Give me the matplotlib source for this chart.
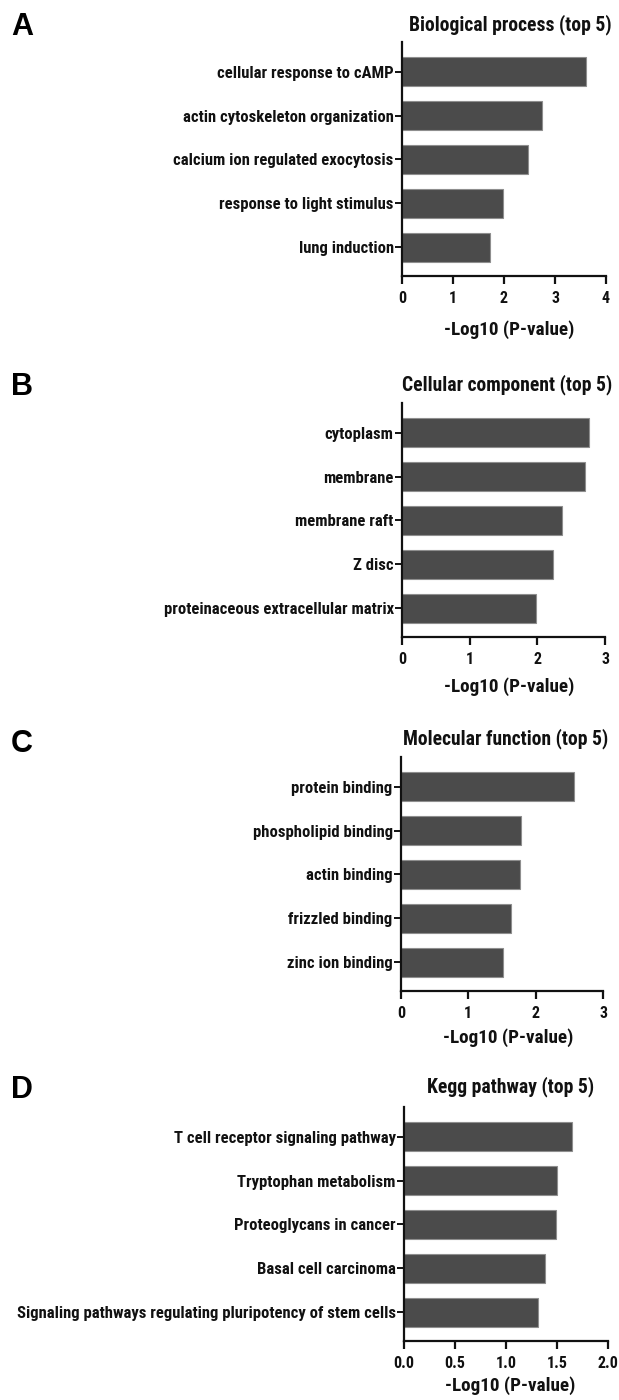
import matplotlib
matplotlib.use("Agg")
import matplotlib.pyplot as plt

# ---------------- data ----------------
bp_terms = ["cellular response to cAMP", "actin cytoskeleton organization",
            "calcium ion regulated exocytosis", "response to light stimulus",
            "lung induction"]
bp_values = [3.60, 2.74, 2.48, 1.98, 1.73]

cc_terms = ["cytoplasm", "membrane", "membrane raft", "Z disc",
            "proteinaceous extracellular matrix"]
cc_values = [2.77, 2.70, 2.37, 2.23, 1.98]

mf_terms = ["protein binding", "phospholipid binding", "actin binding",
            "frizzled binding", "zinc ion binding"]
mf_values = [2.57, 1.78, 1.76, 1.64, 1.52]

kegg_terms = ["T cell receptor signaling pathway", "Tryptophan metabolism",
              "Proteoglycans in cancer", "Basal cell carcinoma",
              "Signaling pathways regulating pluripotency of stem cells"]
kegg_values = [1.65, 1.50, 1.49, 1.38, 1.31]

titles = ["Biological process (top 5)", "Cellular component (top 5)",
          "Molecular function (top 5)", "Kegg pathway (top 5)"]
letters = ["A", "B", "C", "D"]
xticks_list = [[0, 1, 2, 3, 4], [0, 1, 2, 3], [0, 1, 2, 3],
               [0.0, 0.5, 1.0, 1.5, 2.0]]
xticklabels_list = [["0", "1", "2", "3", "4"], ["0", "1", "2", "3"],
                    ["0", "1", "2", "3"], ["0.0", "0.5", "1.0", "1.5", "2.0"]]
xlabel = "-Log10 (P-value)"

# ---------------- layout (pixels) ----------------
W, H = 619, 1400
fig = plt.figure(figsize=(W / 100, H / 100), dpi=100)
fig.patch.set_facecolor("white")

LAB_FONT = ["Roboto Condensed", "Liberation Sans", "DejaVu Sans"]
BOLD_FONT = ["Liberation Sans", "DejaVu Sans"]

renderer = fig.canvas.get_renderer()


def fit_size(text, family, target_px, base=10.0):
    t = fig.text(0, 0, text, fontfamily=family, fontweight="bold",
                 fontsize=base)
    w = t.get_window_extent(renderer).width
    t.remove()
    return base * target_px / w


LABEL_FS = fit_size("Signaling pathways regulating pluripotency of stem cells",
                    LAB_FONT, 378)
TITLE_FS = fit_size("Biological process (top 5)", LAB_FONT, 203)
XLAB_FS = fit_size("-Log10 (P-value)", LAB_FONT, 130)
TICK_FS = 11.5

# (left, right, top, bottom) of each axes in pixels
boxes = [(402, 606, 42, 276), (402, 605, 403, 637),
         (401, 603, 757, 991), (404, 608, 1107, 1341)]
title_pos = [(510, 25), (507, 385), (506, 739), (511, 1087)]
letter_pos = [(22, 27), (22, 387), (22, 744), (22, 1090)]
xlabel_pos = [(509, 330), (509, 687), (508, 1038), (510, 1386)]

panels = [(bp_terms, bp_values), (cc_terms, cc_values),
          (mf_terms, mf_values), (kegg_terms, kegg_values)]

for i, (terms, vals) in enumerate(panels):
    l, r, t, b = boxes[i]
    ax = fig.add_axes([l / W, 1 - b / H, (r - l) / W, (b - t) / H])
    ypos = list(range(len(terms)))
    ax.barh(ypos, vals, height=0.66, color="#4b4b4b",
            edgecolor="#8e8e8e", linewidth=0.8, zorder=2)
    ax.set_ylim(4.66, -0.68)
    ax.set_xlim(xticks_list[i][0], xticks_list[i][-1])
    ax.set_yticks(ypos)
    ax.set_yticklabels(terms, fontfamily=LAB_FONT, fontweight="bold",
                       fontsize=LABEL_FS, color="#111111")
    ax.set_xticks(xticks_list[i])
    ax.set_xticklabels(xticklabels_list[i], fontfamily=LAB_FONT,
                       fontweight="bold", fontsize=TICK_FS, color="#111111")
    for s in ["top", "right"]:
        ax.spines[s].set_visible(False)
    for s in ["left", "bottom"]:
        ax.spines[s].set_linewidth(1.6)
        ax.spines[s].set_color("#111111")
    ax.tick_params(axis="y", length=5, width=1.4, pad=1, color="#111111")
    ax.tick_params(axis="x", length=6, width=1.6, pad=5, color="#111111")

    fig.text(title_pos[i][0] / W, 1 - title_pos[i][1] / H, titles[i],
             ha="center", va="center", fontfamily=LAB_FONT,
             fontweight="bold", fontsize=TITLE_FS, color="#111111")
    fig.text(letter_pos[i][0] / W, 1 - letter_pos[i][1] / H, letters[i],
             ha="center", va="center", fontfamily=BOLD_FONT,
             fontweight="bold", fontsize=22, color="#000000")
    fig.text(xlabel_pos[i][0] / W, 1 - xlabel_pos[i][1] / H, xlabel,
             ha="center", va="center", fontfamily=LAB_FONT,
             fontweight="bold", fontsize=XLAB_FS, color="#111111")

fig.savefig("out.png", dpi=100, facecolor="white")
